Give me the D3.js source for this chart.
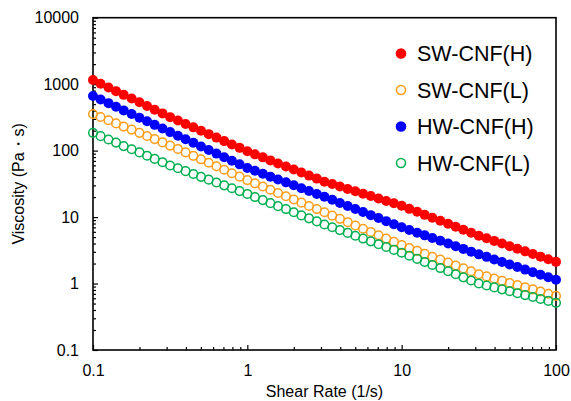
<!DOCTYPE html>
<html>
<head>
<meta charset="utf-8">
<script src="https://cdn.jsdelivr.net/npm/d3@7"></script>
<style>
  html, body { margin: 0; padding: 0; background: #fff; }
  svg { display: block; font-family: "Liberation Sans", Arial, sans-serif; }
</style>
</head>
<body>
<svg id="chart" width="571" height="401"></svg>
<script>
// Shear rate sweep (1/s)
const shearRate = [0.1, 0.112, 0.126, 0.141, 0.158, 0.178, 0.2, 0.224, 0.251, 0.282,
  0.316, 0.355, 0.398, 0.447, 0.501, 0.562, 0.631, 0.708, 0.794, 0.891,
  1, 1.12, 1.26, 1.41, 1.58, 1.78, 2, 2.24, 2.51, 2.82,
  3.16, 3.55, 3.98, 4.47, 5.01, 5.62, 6.31, 7.08, 7.94, 8.91,
  10, 11.2, 12.6, 14.1, 15.8, 17.8, 20, 22.4, 25.1, 28.2,
  31.6, 35.5, 39.8, 44.7, 50.1, 56.2, 63.1, 70.8, 79.4, 89.1, 100];

// Viscosity (Pa·s) for each sample
const swCnfH = [1156, 1016, 893, 785, 690, 608, 535, 470, 413, 363,
  319, 284, 252, 224, 199, 177, 157, 139, 124, 110,
  97.7, 87.9, 79.2, 71.3, 64.1, 57.8, 52.0, 46.8, 42.1, 37.9,
  34.1, 31.4, 28.8, 26.5, 24.4, 22.5, 20.7, 19.0, 17.5, 16.1,
  14.8, 13.3, 12.0, 10.8, 9.77, 8.81, 7.94, 7.16, 6.46, 5.82,
  5.25, 4.80, 4.38, 4.00, 3.65, 3.33, 3.05, 2.78, 2.54, 2.32, 2.12];

const swCnfL = [356, 320, 286, 257, 230, 207, 185, 166, 149, 133,
  119, 106, 94.0, 83.4, 74.0, 65.6, 58.1, 51.5, 45.7, 40.6,
  36.0, 32.2, 28.8, 25.8, 23.0, 20.6, 18.4, 16.5, 14.7, 13.2,
  11.8, 10.5, 9.40, 8.38, 7.48, 6.68, 5.97, 5.33, 4.75, 4.25,
  3.79, 3.43, 3.10, 2.80, 2.53, 2.29, 2.07, 1.87, 1.69, 1.53,
  1.38, 1.28, 1.19, 1.10, 1.02, 0.949, 0.881, 0.817, 0.759, 0.703, 0.653];

const hwCnfH = [665, 587, 518, 457, 403, 356, 313, 277, 244, 215,
  190, 167, 148, 131, 115, 102, 90.2, 79.6, 70.3, 62.1,
  54.8, 49.7, 44.9, 40.6, 36.7, 33.3, 30.1, 27.2, 24.7, 22.3,
  20.2, 18.2, 16.3, 14.7, 13.2, 11.9, 10.7, 9.66, 8.69, 7.82,
  7.03, 6.40, 5.82, 5.31, 4.83, 4.40, 4.00, 3.64, 3.32, 3.02,
  2.75, 2.52, 2.30, 2.11, 1.93, 1.77, 1.62, 1.48, 1.36, 1.24, 1.14];

const hwCnfL = [185, 165, 147, 132, 117, 105, 94.0, 83.9, 75.0, 67.0,
  59.8, 54.2, 49.1, 44.5, 40.3, 36.6, 33.1, 30.0, 27.2, 24.6,
  22.3, 20.0, 18.0, 16.2, 14.6, 13.2, 11.8, 10.6, 9.57, 8.61,
  7.74, 7.03, 6.37, 5.78, 5.24, 4.75, 4.31, 3.91, 3.54, 3.21,
  2.91, 2.62, 2.35, 2.11, 1.90, 1.71, 1.53, 1.38, 1.24, 1.11,
  1.00, 0.935, 0.875, 0.818, 0.766, 0.716, 0.670, 0.627, 0.586, 0.548, 0.513];

const seriesNames = ["SW-CNF(H)", "SW-CNF(L)", "HW-CNF(H)", "HW-CNF(L)"];
const seriesValues = [swCnfH, swCnfL, hwCnfH, hwCnfL];
const seriesColors = ["#ff0000", "#ff9e1b", "#0000ff", "#00b050"];
const seriesFilled = [true, false, true, false];

const xTickLabels = [0.1, 1, 10, 100];
const yTickLabels = [0.1, 1, 10, 100, 1000, 10000];

const xLabel = "Shear Rate (1/s)";
const yLabel = "Viscosity (Pa・s)";

const svg = d3.select("#chart");
const margin = { left: 93, top: 17.7, right: 15, bottom: 51 };
const W = 571, H = 401;
const plotW = W - margin.left - margin.right;
const plotH = H - margin.top - margin.bottom;

const x = d3.scaleLog().domain([0.1, 100]).range([0, plotW]);
const y = d3.scaleLog().domain([0.1, 10000]).range([plotH, 0]);

const g = svg.append("g").attr("transform", `translate(${margin.left},${margin.top})`);

function minorTicks(lo, hi) {
  const out = [];
  for (let d = lo; d < hi; d *= 10) {
    for (let k = 2; k <= 9; k++) out.push(+(d * k).toPrecision(3));
  }
  return out;
}

// Minor ticks (inside)
g.append("g")
  .attr("transform", `translate(0,${plotH})`)
  .call(d3.axisBottom(x).tickValues(minorTicks(0.1, 100)).tickSizeInner(-3).tickSizeOuter(0).tickFormat(""))
  .call(a => a.select(".domain").remove());
g.append("g")
  .call(d3.axisLeft(y).tickValues(minorTicks(0.1, 10000)).tickSizeInner(-3).tickSizeOuter(0).tickFormat(""))
  .call(a => a.select(".domain").remove());

// Major ticks with labels
const fmt = d => String(d);
const xAxis = g.append("g")
  .attr("transform", `translate(0,${plotH})`)
  .call(d3.axisBottom(x).tickValues(xTickLabels).tickSizeInner(-5).tickSizeOuter(0).tickPadding(15).tickFormat(fmt));
const yAxis = g.append("g")
  .call(d3.axisLeft(y).tickValues(yTickLabels).tickSizeInner(-5).tickSizeOuter(0).tickPadding(14).tickFormat(fmt));
[xAxis, yAxis].forEach(a => {
  a.select(".domain").remove();
  a.selectAll("text").attr("font-size", 16).attr("fill", "#000").attr("font-family", "Liberation Sans, Arial, sans-serif");
});
g.selectAll(".tick line").attr("stroke", "#000").attr("stroke-width", 1.2);

// Frame
g.append("rect")
  .attr("x", 0).attr("y", 0).attr("width", plotW).attr("height", plotH)
  .attr("fill", "none").attr("stroke", "#000").attr("stroke-width", 1.6);

// Data points
seriesValues.forEach((vals, si) => {
  const pts = shearRate.map((s, i) => ({ s, v: vals[i] }));
  g.append("g").selectAll("circle")
    .data(pts)
    .join("circle")
    .attr("cx", d => x(d.s))
    .attr("cy", d => y(d.v))
    .attr("r", seriesFilled[si] ? 5 : 4.3)
    .attr("fill", seriesFilled[si] ? seriesColors[si] : "none")
    .attr("stroke", seriesFilled[si] ? "none" : seriesColors[si])
    .attr("stroke-width", 1.5);
});

// Legend
const legend = svg.append("g").attr("transform", "translate(401,53.5)");
seriesNames.forEach((name, i) => {
  const row = legend.append("g").attr("transform", `translate(0,${i * 36.5})`);
  row.append("circle")
    .attr("r", seriesFilled[i] ? 5.3 : 4.5)
    .attr("fill", seriesFilled[i] ? seriesColors[i] : "#fff")
    .attr("stroke", seriesFilled[i] ? "none" : seriesColors[i])
    .attr("stroke-width", 1.6);
  row.append("text")
    .attr("x", 16).attr("y", 0).attr("dy", "0.36em")
    .attr("font-size", 21.5).attr("fill", "#000")
    .text(name);
});

// Axis titles
svg.append("text")
  .attr("x", margin.left + plotW / 2).attr("y", 397)
  .attr("text-anchor", "middle").attr("font-size", 16).attr("fill", "#000")
  .text(xLabel);
svg.append("text")
  .attr("transform", `translate(24,${margin.top + plotH / 2}) rotate(-90)`)
  .attr("text-anchor", "middle").attr("font-size", 16).attr("fill", "#000")
  .text(yLabel);
</script>
</body>
</html>
